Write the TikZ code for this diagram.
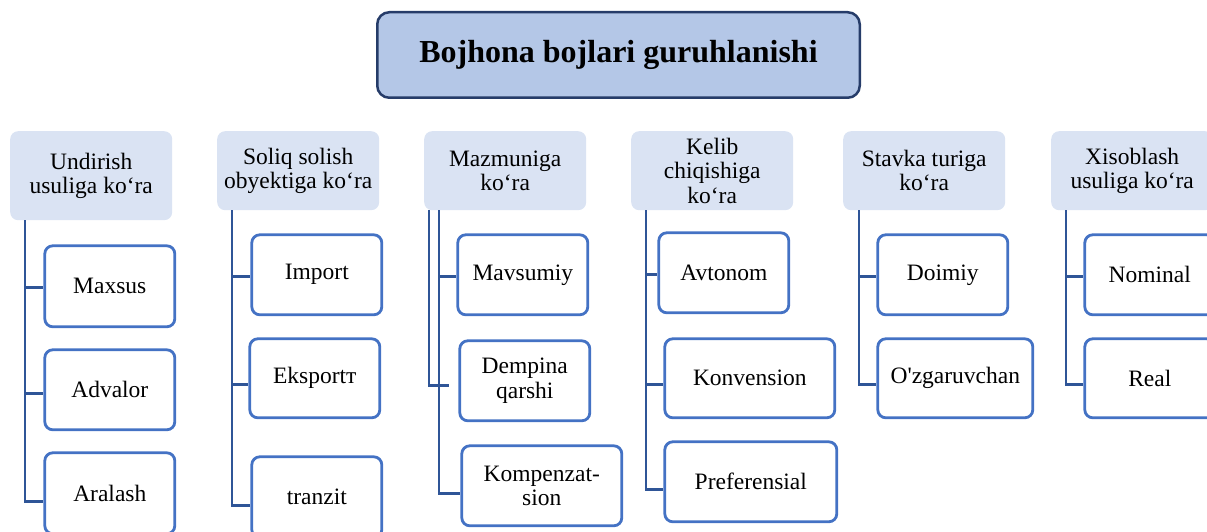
\documentclass[tikz,border=0pt]{standalone}
\usepackage{fontspec}
\setmainfont{Liberation Serif}
\usetikzlibrary{positioning}
\definecolor{titlefill}{RGB}{180,199,231}
\definecolor{titleline}{RGB}{38,60,105}
\definecolor{headfill}{RGB}{218,227,243}
\definecolor{kidline}{RGB}{68,114,196}
\definecolor{treeline}{RGB}{47,85,151}
\newcommand{\boxfont}{\fontsize{23.5}{24.5}\selectfont}
\tikzset{
  mainbox/.style={draw=titleline,line width=2.5pt,rounded corners=12pt,fill=titlefill,
                  minimum width=482.5pt,minimum height=85.5pt,
                  font=\fontsize{32}{36}\selectfont\bfseries},
  grouphead/.style={fill=headfill,rounded corners=8pt,anchor=north west,align=center,
                    minimum width=162pt,minimum height=79pt,inner sep=2pt,font=\boxfont},
  kidbox/.style={draw=kidline,line width=2.8pt,rounded corners=8pt,fill=white,
                 anchor=north west,align=center,minimum width=130pt,minimum height=80pt,
                 inner sep=2pt,font=\boxfont}
}
\begin{document}
\begin{tikzpicture}[x=1pt,y=-1pt,
  link/.style={treeline,line width=2.8pt}]
  \useasboundingbox (0,0) rectangle (1207,532);
  \node[mainbox] (top) at (618.5,55) {Bojhona bojlari guruhlanishi};
  % group headers
  \node[grouphead,minimum height=89pt] (h1) at (10,131) {Undirish\\usuliga ko‘ra};
  \node[grouphead] (h2) at (217,131) {Soliq solish\\obyektiga ko‘ra};
  \node[grouphead] (h3) at (424,131) {Mazmuniga\\ko‘ra};
  \node[grouphead] (h4) at (631,131) {Kelib\\chiqishiga\\ko‘ra};
  \node[grouphead] (h5) at (843,131) {Stavka turiga\\ko‘ra};
  \node[grouphead] (h6) at (1051,131) {Xisoblash\\usuliga ko‘ra};
  % kinds
  \node[kidbox,minimum height=81pt] (b11) at (43.4,244.4) {Maxsus};
  \node[kidbox] (b12) at (43.4,348.4) {Advalor};
  \node[kidbox,minimum height=81pt] (b13) at (43.4,451.4) {Aralash};
  \node[kidbox] (b21) at (250.4,233.4) {Import};
  \node[kidbox,minimum height=79pt] (b22) at (248.4,337.4) {Eksportт};
  \node[kidbox,minimum height=81pt] (b23) at (250.4,455.4) {tranzit};
  \node[kidbox] (b31) at (456.4,233.4) {Mavsumiy};
  \node[kidbox] (b32) at (458.4,339.4) {Dempina\\qarshi};
  \node[kidbox,minimum width=160pt] (b33) at (460.4,444.4) {Kompenzat-\\sion};
  \node[kidbox] (b41) at (657.4,231.4) {Avtonom};
  \node[kidbox,minimum width=170pt,minimum height=79pt] (b42) at (663.4,337.4) {Konvension};
  \node[kidbox,minimum width=172pt] (b43) at (663.4,440.4) {Preferensial};
  \node[kidbox] (b51) at (876.4,233.4) {Doimiy};
  \node[kidbox,minimum width=155pt,minimum height=79pt] (b52) at (876.4,337.4) {O\textquotesingle zgaruvchan};
  \node[kidbox] (b61) at (1083.4,233.4) {Nominal};
  \node[kidbox,minimum height=79pt] (b62) at (1083.4,337.4) {Real};
  % trunks and tick ends
  \coordinate (t1) at ([xshift=15pt]h1.south west);
  \coordinate (t2) at ([xshift=15pt]h2.south west);
  \coordinate (t3) at ([xshift=15pt]h3.south west);
  \coordinate (t3b) at ([xshift=5pt]h3.south west);
  \coordinate (t4) at ([xshift=15pt]h4.south west);
  \coordinate (t5) at ([xshift=16pt]h5.south west);
  \coordinate (t6) at ([xshift=15pt]h6.south west);
  \coordinate (e11) at ([yshift=-1pt]b11.west);
  \coordinate (e12) at ([yshift=-4pt]b12.west);
  \coordinate (e13) at ([yshift=-8pt]b13.west);
  \coordinate (e21) at ([yshift=-2pt]b21.west);
  \coordinate (e22) at ([yshift=-6pt]b22.west);
  \coordinate (e23) at ([yshift=-8pt]b23.west);
  \coordinate (e31) at ([yshift=-2pt]b31.west);
  \coordinate (e32) at ([xshift=-9pt,yshift=-5pt]b32.west);
  \coordinate (e33) at ([yshift=-8pt]b33.west);
  \coordinate (e41) at ([yshift=-2pt]b41.west);
  \coordinate (e42) at ([yshift=-6pt]b42.west);
  \coordinate (e43) at ([yshift=-8pt]b43.west);
  \coordinate (e51) at ([yshift=-2pt]b51.west);
  \coordinate (e52) at ([yshift=-6pt]b52.west);
  \coordinate (e61) at ([yshift=-2pt]b61.west);
  \coordinate (e62) at ([yshift=-6pt]b62.west);
  \draw[link] (t1) -- (t1 |- e13) -- (e13);
  \draw[link] (t1 |- e11) -- (e11);
  \draw[link] (t1 |- e12) -- (e12);
  \draw[link] (t2) -- (t2 |- e23) -- (e23);
  \draw[link] (t2 |- e21) -- (e21);
  \draw[link] (t2 |- e22) -- (e22);
  \draw[link] (t3b) -- (t3b |- e32) -- (e32);
  \draw[link] (t3) -- (t3 |- e33) -- (e33);
  \draw[link] (t3 |- e31) -- (e31);
  \draw[link] (t4) -- (t4 |- e43) -- (e43);
  \draw[link] (t4 |- e41) -- (e41);
  \draw[link] (t4 |- e42) -- (e42);
  \draw[link] (t5) -- (t5 |- e52) -- (e52);
  \draw[link] (t5 |- e51) -- (e51);
  \draw[link] (t6) -- (t6 |- e62) -- (e62);
  \draw[link] (t6 |- e61) -- (e61);
\end{tikzpicture}
\end{document}
